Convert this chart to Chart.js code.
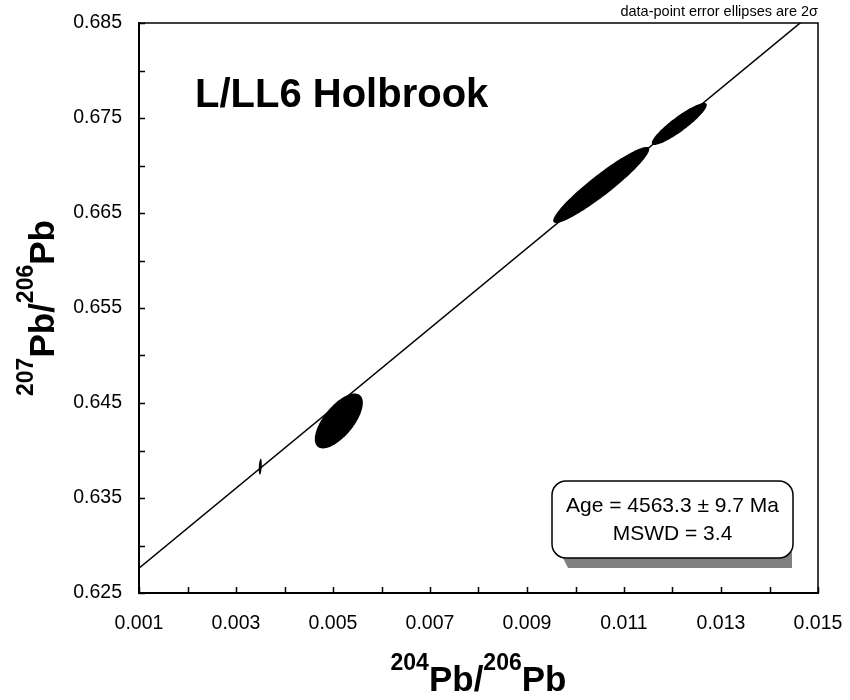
<!DOCTYPE html>
<html>
<head>
<meta charset="utf-8">
<script src="https://cdn.jsdelivr.net/npm/chart.js@4.4.1/dist/chart.umd.min.js"></script>
<style>
  body { margin: 0; background: #fff; }
  #wrap { width: 850px; height: 700px; }
</style>
</head>
<body>
<div id="wrap"><canvas id="isochron"></canvas></div>
<script>
// Pb-Pb isochron data: centres, 2-sigma errors and error correlations
const ptX  = [0.00350, 0.00512, 0.01053, 0.01214];   // 204Pb/206Pb
const ptY  = [0.63830, 0.64311, 0.66795, 0.67437];   // 207Pb/206Pb
const errX = [0.000031, 0.000495, 0.00099, 0.000567];
const errY = [0.00084, 0.00289, 0.00400, 0.00221];
const rho  = [0.30, 0.66, 0.94, 0.905];

// regression line: 207/206 = intercept + slope * 204/206
const isoIntercept = 0.6234;
const isoSlope = 4.21;

const xRange = [0.001, 0.015];
const yRange = [0.625, 0.685];

const sampleName = 'L/LL6 Holbrook';
const resultLines = ['Age = 4563.3 \u00b1 9.7 Ma', 'MSWD = 3.4'];
const noteText = 'data-point error ellipses are 2\u03c3';

const FONT = '"Liberation Sans", Arial, sans-serif';

const lineData = xRange.map(x => ({ x: x, y: isoIntercept + isoSlope * x }));

// filled 2-sigma error ellipses, drawn beneath the regression line
const ellipsePlugin = {
    id: 'ellipses',
    beforeDatasetsDraw(chart) {
        const { ctx, chartArea: a, scales: { x, y } } = chart;
        ctx.save();
        ctx.beginPath();
        ctx.rect(a.left, a.top, a.right - a.left, a.bottom - a.top);
        ctx.clip();
        ctx.fillStyle = '#000';
        for (let i = 0; i < ptX.length; i++) {
            const s = Math.sqrt(1 - rho[i] * rho[i]);
            ctx.beginPath();
            for (let k = 0; k <= 120; k++) {
                const t = k / 120 * Math.PI * 2;
                const vx = ptX[i] + errX[i] * Math.cos(t);
                const vy = ptY[i] + errY[i] * (rho[i] * Math.cos(t) + s * Math.sin(t));
                const px = x.getPixelForValue(vx), py = y.getPixelForValue(vy);
                if (k === 0) ctx.moveTo(px, py); else ctx.lineTo(px, py);
            }
            ctx.closePath();
            ctx.fill();
        }
        ctx.restore();
    }
};

// frame, inward ticks, superscripted axis titles and annotations
const decorPlugin = {
    id: 'decor',
    afterDraw(chart) {
        const { ctx, chartArea: a, scales: { x, y } } = chart;
        ctx.save();
        ctx.strokeStyle = '#000';

        // top and right edges of the frame
        ctx.lineWidth = 1.5;
        ctx.beginPath();
        ctx.moveTo(a.left, a.top);
        ctx.lineTo(a.right, a.top);
        ctx.lineTo(a.right, a.bottom);
        ctx.stroke();

        // inward tick marks on the bottom and left axes
        ctx.lineWidth = 1.5;
        ctx.beginPath();
        x.ticks.forEach(t => {
            const px = Math.round(x.getPixelForValue(t.value)) + 0.5;
            ctx.moveTo(px, a.bottom);
            ctx.lineTo(px, a.bottom - 6);
        });
        y.ticks.forEach(t => {
            const py = Math.round(y.getPixelForValue(t.value)) + 0.5;
            ctx.moveTo(a.left, py);
            ctx.lineTo(a.left + 6, py);
        });
        ctx.stroke();

        // axis titles with superscript mass numbers
        const drawIsoTitle = (parts, cx, cy) => {
            ctx.textBaseline = 'alphabetic';
            ctx.textAlign = 'left';
            let total = 0;
            parts.forEach(p => {
                ctx.font = 'bold ' + (p.sup ? 23 : 35) + 'px ' + FONT;
                p.w = ctx.measureText(p.text).width;
                total += p.w;
            });
            let cur = cx - total / 2;
            parts.forEach(p => {
                ctx.font = 'bold ' + (p.sup ? 23 : 35) + 'px ' + FONT;
                ctx.fillText(p.text, cur, cy - (p.sup ? 21 : 0));
                cur += p.w;
            });
        };
        const titleParts = () => [
            { text: '', sup: true }, { text: 'Pb/', sup: false },
            { text: '206', sup: true }, { text: 'Pb', sup: false }
        ];
        ctx.fillStyle = '#000';
        const xt = titleParts(); xt[0].text = '204';
        drawIsoTitle(xt, (a.left + a.right) / 2, 691);
        ctx.save();
        ctx.translate(54, (a.top + a.bottom) / 2);
        ctx.rotate(-Math.PI / 2);
        const yt = titleParts(); yt[0].text = '207';
        drawIsoTitle(yt, 0, 0);
        ctx.restore();

        // sample name
        ctx.font = 'bold 40px ' + FONT;
        ctx.textAlign = 'left';
        ctx.fillText(sampleName, a.left + 56, a.top + 84);

        // note above the frame
        ctx.font = '14.5px ' + FONT;
        ctx.textAlign = 'right';
        ctx.fillText(noteText, a.right, a.top - 7);

        // result box with a grey drop shadow
        const bR = a.right - 25, bB = a.bottom - 35, bW = 241, bH = 77;
        const bL = bR - bW, bT = bB - bH;
        ctx.fillStyle = '#808080';
        ctx.beginPath();
        ctx.moveTo(bL + 8, bB - 6);
        ctx.lineTo(bR - 1, bB - 6);
        ctx.lineTo(bR - 1, bB + 10);
        ctx.lineTo(bL + 16, bB + 10);
        ctx.closePath();
        ctx.fill();
        ctx.fillStyle = '#fff';
        ctx.lineWidth = 1.5;
        ctx.beginPath();
        ctx.roundRect(bL, bT, bW, bH, 14);
        ctx.fill();
        ctx.stroke();
        ctx.fillStyle = '#000';
        ctx.font = '21px ' + FONT;
        ctx.textAlign = 'center';
        ctx.fillText(resultLines[0], (bL + bR) / 2, bT + 31);
        ctx.fillText(resultLines[1], (bL + bR) / 2, bT + 59);

        ctx.restore();
    }
};

const tickFont = { family: FONT, size: 19.5 };

// drop the label overhang padding so the plot frame sits at fixed margins
const noOverhang = s => {
    s.paddingLeft = 0; s.paddingRight = 0;
    s.paddingTop = 0; s.paddingBottom = 0;
};

new Chart(document.getElementById('isochron'), {
    type: 'scatter',
    data: {
        datasets: [{
            type: 'line',
            data: lineData,
            borderColor: '#000',
            borderWidth: 1.5,
            pointRadius: 0,
            fill: false
        }]
    },
    options: {
        responsive: true,
        maintainAspectRatio: false,
        animation: false,
        layout: { padding: { top: 23, right: 32, left: 0, bottom: 0 } },
        plugins: { legend: { display: false }, tooltip: { enabled: false } },
        scales: {
            x: {
                type: 'linear',
                min: xRange[0],
                max: xRange[1],
                afterFit: s => { s.height = 107; noOverhang(s); },
                grid: { display: true, drawOnChartArea: false, drawTicks: false },
                border: { display: true, color: '#000', width: 2 },
                ticks: {
                    stepSize: 0.001,
                    autoSkip: false,
                    maxRotation: 0,
                    padding: 19,
                    color: '#000',
                    font: tickFont,
                    callback: (v, i) => i % 2 === 0 ? v.toFixed(3) : ''
                }
            },
            y: {
                type: 'linear',
                min: yRange[0],
                max: yRange[1],
                afterFit: s => { s.width = 139; noOverhang(s); },
                grid: { display: true, drawOnChartArea: false, drawTicks: false },
                border: { display: true, color: '#000', width: 2 },
                ticks: {
                    stepSize: 0.005,
                    autoSkip: false,
                    padding: 17,
                    color: '#000',
                    font: tickFont,
                    callback: (v, i) => i % 2 === 0 ? v.toFixed(3) : ''
                }
            }
        }
    },
    plugins: [ellipsePlugin, decorPlugin]
});
</script>
</body>
</html>
